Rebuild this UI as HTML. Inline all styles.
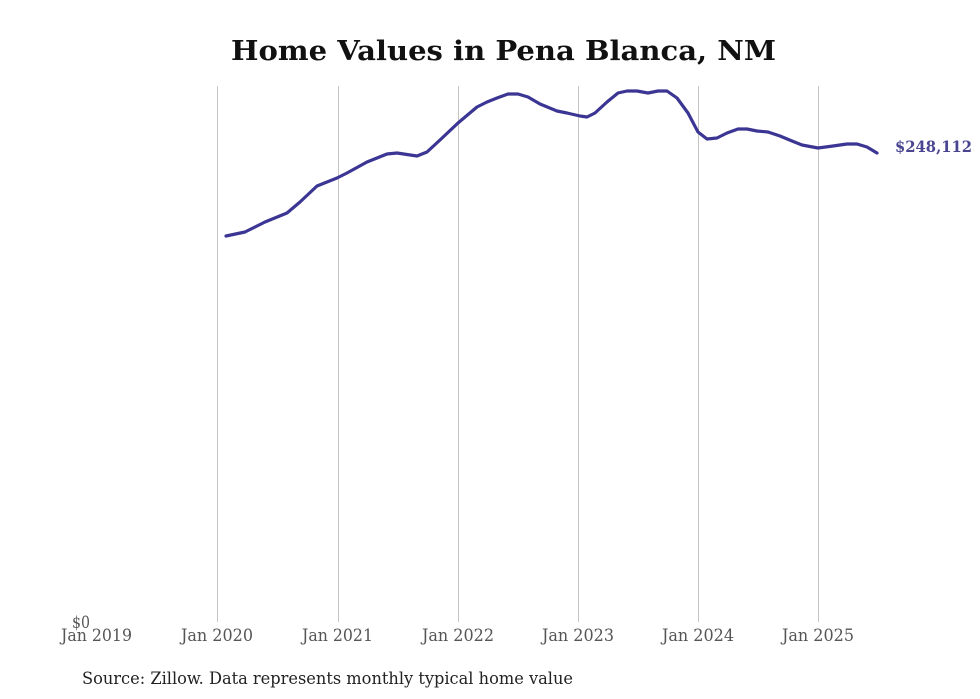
<!DOCTYPE html>
<html>
<head>
<meta charset="utf-8">
<style>
  html, body { margin: 0; padding: 0; background: #ffffff; }
  body { width: 980px; height: 699px; overflow: hidden; }
  svg { display: block; }
  .f { font-family: "DejaVu Serif Condensed", "DejaVu Serif", "Liberation Serif", serif; font-stretch: condensed; }
  .t { font-family: "DejaVu Serif", "Liberation Serif", serif; font-weight: bold; }
</style>
</head>
<body>
<svg width="980" height="699" viewBox="0 0 980 699" xmlns="http://www.w3.org/2000/svg">
  <rect x="0" y="0" width="980" height="699" fill="#ffffff"/>
  <!-- Title -->
  <text class="t" x="231" y="60" font-size="27" fill="#111111" textLength="545" lengthAdjust="spacingAndGlyphs">Home Values in Pena Blanca, NM</text>

  <!-- Gridlines -->
  <g stroke="#c4c4c4" stroke-width="1">
    <line x1="217.5" y1="86" x2="217.5" y2="622"/>
    <line x1="338.5" y1="86" x2="338.5" y2="622"/>
    <line x1="458.5" y1="86" x2="458.5" y2="622"/>
    <line x1="578.5" y1="86" x2="578.5" y2="622"/>
    <line x1="698.5" y1="86" x2="698.5" y2="622"/>
    <line x1="818.5" y1="86" x2="818.5" y2="622"/>
  </g>

  <!-- Y label -->
  <text class="f" x="72" y="628" font-size="17" fill="#555555" textLength="18" lengthAdjust="spacingAndGlyphs">$0</text>

  <!-- X labels -->
  <g class="f" font-size="17" fill="#555555">
    <text x="61" y="641" textLength="71" lengthAdjust="spacingAndGlyphs">Jan 2019</text>
    <text x="181" y="641" textLength="72" lengthAdjust="spacingAndGlyphs">Jan 2020</text>
    <text x="302" y="641" textLength="71" lengthAdjust="spacingAndGlyphs">Jan 2021</text>
    <text x="422" y="641" textLength="72" lengthAdjust="spacingAndGlyphs">Jan 2022</text>
    <text x="542" y="641" textLength="72" lengthAdjust="spacingAndGlyphs">Jan 2023</text>
    <text x="662" y="641" textLength="72" lengthAdjust="spacingAndGlyphs">Jan 2024</text>
    <text x="782" y="641" textLength="72" lengthAdjust="spacingAndGlyphs">Jan 2025</text>
  </g>

  <!-- Series -->
  <polyline fill="none" stroke="#3b3593" stroke-width="3.2" stroke-linejoin="round" stroke-linecap="round"
    points="226,236 245,232 265,222 287,213 300,202 317,186 337,178 347,173 367,162 387,154 397,153 417,156 427,152 440,140 458,123 477,107 487,102 497,98 508,94 518,94 528,97 540,104 557,111 567,113 580,116 587,117 595,113 607,102 618,93 627,91 637,91 648,93 658,91 667,91 677,98 688,113 698,132 707,139 717,138 727,133 738,129 747,129 757,131 768,132 780,136 792,141 802,145 818,148 833,146 847,144 857,144 867,147 877,153"/>

  <!-- End label -->
  <text class="t" x="895" y="152" font-size="16" fill="#4a4591" textLength="77" lengthAdjust="spacingAndGlyphs">$248,112</text>

  <!-- Source -->
  <text class="f" x="82" y="684" font-size="17" fill="#222222" textLength="491" lengthAdjust="spacingAndGlyphs">Source: Zillow. Data represents monthly typical home value</text>
</svg>
</body>
</html>
